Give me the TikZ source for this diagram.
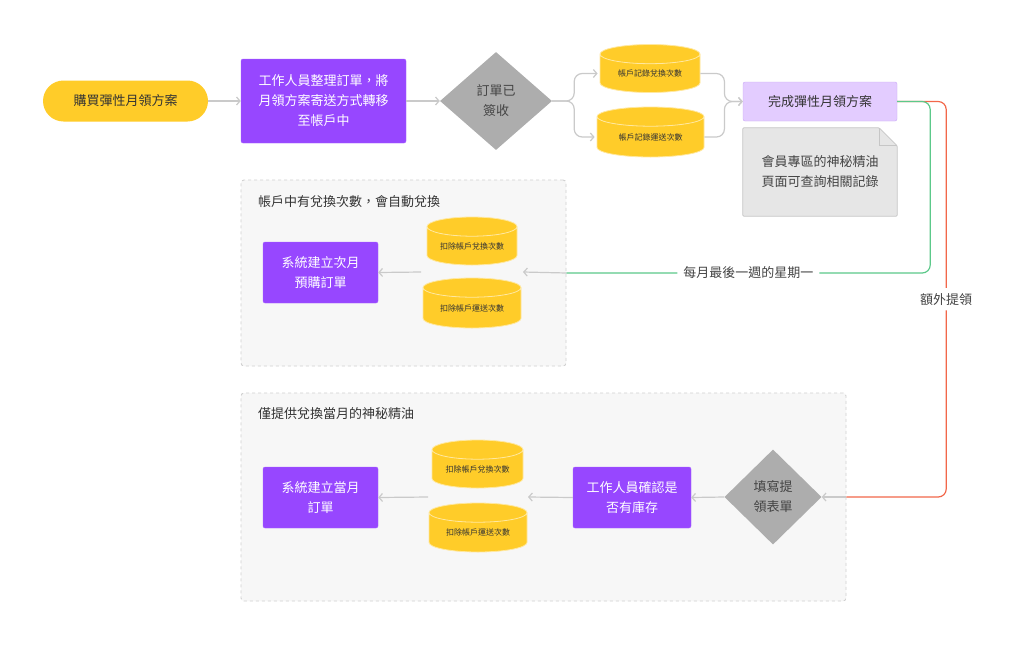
\documentclass[tikz,border=0pt]{standalone}
\usepackage{fontspec}
\setmainfont{Noto Sans CJK TC}
\usetikzlibrary{shapes.geometric,arrows.meta,backgrounds}
\definecolor{planYellow}{HTML}{FFCC29}
\definecolor{taskPurple}{HTML}{9747FF}
\definecolor{donePurple}{HTML}{E3CCFF}
\definecolor{doneBorder}{HTML}{C9A8F5}
\definecolor{gateGray}{HTML}{ADADAD}
\definecolor{noteGray}{HTML}{E6E6E6}
\definecolor{noteBorder}{HTML}{C6C6C6}
\definecolor{groupFill}{HTML}{F7F7F7}
\definecolor{groupBorder}{HTML}{D0D0D0}
\definecolor{linkGray}{HTML}{CACACA}
\definecolor{monthGreen}{HTML}{5CC98A}
\definecolor{extraRed}{HTML}{F2674A}
\definecolor{inkDark}{HTML}{333333}
\definecolor{inkSoft}{HTML}{444444}

\begin{document}
\begin{tikzpicture}[x=1pt, y=-1pt,
    every node/.style={font=\fontsize{13}{20}\selectfont, text=inkDark, inner sep=0pt},
    task/.style={fill=taskPurple, draw=taskPurple!85!white, rounded corners=2pt, text=white, align=center},
    gate/.style={diamond, fill=gateGray, align=center, text=inkSoft},
    store/.style={cylinder, shape border rotate=90, aspect=0.3, anchor=shape center, cylinder uses custom fill,
        cylinder body fill=planYellow, cylinder end fill=planYellow, draw=white!55!planYellow,
        line width=0.8pt, font=\fontsize{8}{10}\selectfont},
    group/.style={fill=groupFill, draw=groupBorder, dashed, line width=0.9pt, rounded corners=3pt},
    link/.style={draw=linkGray, line width=1.2pt, -{Straight Barb[length=3.5pt,width=8pt]}},
    flowLine/.style={line width=1.2pt, rounded corners=8pt},
  ]
    \begin{scope}[on background layer]
        \fill[white] (0,0) rectangle (1024,646);
    \end{scope}
    \useasboundingbox (0,0) rectangle (1024,646);

    % Groups
    \node[group, minimum width=325, minimum height=186] (autoGroup) at (403.5,273) {};
    \node[anchor=west] (autoTitle) at (258,202) {帳戶中有兌換次數，會自動兌換};
    \node[group, minimum width=605, minimum height=208] (stockGroup) at (543.5,497) {};
    \node[anchor=west] (stockTitle) at (258,414) {僅提供兌換當月的神秘精油};

    % Top row - purchase flow
    \node[fill=planYellow, rounded corners=20.5pt, minimum width=165, minimum height=41] (buy) at (125.5,101) {購買彈性月領方案};
    \node[task, minimum width=165, minimum height=84] (sort) at (323.5,101) {工作人員整理訂單，將\\月領方案寄送方式轉移\\至帳戶中};
    \node[gate, minimum width=112, minimum height=98] (signed) at (496,101) {訂單已\\簽收};
    \node[store, minimum width=100, minimum height=48] (logSwap) at (650,68.5) {帳戶記錄兌換次數};
    \node[store, minimum width=107, minimum height=50] (logShip) at (650.5,132) {帳戶記錄運送次數};
    \node[fill=donePurple, draw=doneBorder, rounded corners=2pt, minimum width=154, minimum height=39] (done) at (820,101.5) {完成彈性月領方案};
    \node[minimum width=154, minimum height=88, align=center, text=inkSoft] (note) at (820,172) {會員專區的神秘精油\\頁面可查詢相關記錄};
    \begin{scope}[on background layer]
        \draw[fill=noteGray, draw=noteBorder, line width=0.8pt, rounded corners=1pt]
            (note.south west) -- (note.north west) -- ([xshift=-18pt]note.north east)
            -- ([yshift=-18pt]note.north east) -- (note.south east) -- cycle;
        \draw[draw=noteBorder, line width=0.8pt]
            ([xshift=-18pt]note.north east) -- ([xshift=-18pt,yshift=-18pt]note.north east)
            -- ([yshift=-18pt]note.north east);
    \end{scope}

    % Monthly group
    \node[task, minimum width=115, minimum height=61] (nextOrder) at (320.5,272.5) {系統建立次月\\預購訂單};
    \node[store, minimum width=90, minimum height=48] (cutSwapA) at (472,241) {扣除帳戶兌換次數};
    \node[store, minimum width=98, minimum height=50] (cutShipA) at (472,303) {扣除帳戶運送次數};
    \coordinate (cutsAR) at (523,272);
    \coordinate (cutsAL) at (421,272);

    % Extra group
    \node[task, minimum width=115, minimum height=61] (thisOrder) at (320.5,497.5) {系統建立當月\\訂單};
    \node[store, minimum width=91, minimum height=48] (cutSwapB) at (477.5,464) {扣除帳戶兌換次數};
    \node[store, minimum width=98, minimum height=49] (cutShipB) at (478,527.5) {扣除帳戶運送次數};
    \coordinate (cutsBR) at (528,497);
    \coordinate (cutsBL) at (428,497);
    \node[task, minimum width=118, minimum height=61] (checkStock) at (632,497.5) {工作人員確認是\\否有庫存};
    \node[gate, minimum width=97, minimum height=95] (fillForm) at (773,497) {填寫提\\領表單};

    % Connectors
    \draw[link] (buy.east) -- (sort.west);
    \draw[link] (sort.east) -- (signed.west);
    \draw[link, rounded corners=8pt] (signed.east) -- ++(22,0) |- ([xshift=-2pt]logSwap.west);
    \draw[link, rounded corners=8pt] (signed.east) -- ++(22,0) |- ([xshift=-2pt]logShip.west);
    \draw[link, rounded corners=8pt] (logSwap.east) -- ++(24,0) |- (done.west);
    \draw[link, rounded corners=8pt] (logShip.east) -- ++(20,0) |- (done.west);
    \draw[flowLine, draw=extraRed] (done.east) -- ++(49,0) |- (stockGroup.east)
        node[pos=0.25, fill=white, inner ysep=5pt, text=inkSoft] (extraLabel) {額外提領};
    \draw[flowLine, draw=monthGreen] (done.east) -- ++(33,0) |- (autoGroup.east)
        node[pos=0.75, fill=white, inner xsep=6pt, text=inkSoft] (monthLabel) {每月最後一週的星期一};
    \draw[link] (autoGroup.east) -- (cutsAR);
    \draw[link] (cutsAL) -- (nextOrder.east);
    \draw[link] (stockGroup.east) -- (fillForm.east);
    \draw[link] (fillForm.west) -- (checkStock.east);
    \draw[link] (checkStock.west) -- (cutsBR);
    \draw[link] (cutsBL) -- (thisOrder.east);
\end{tikzpicture}
\end{document}
